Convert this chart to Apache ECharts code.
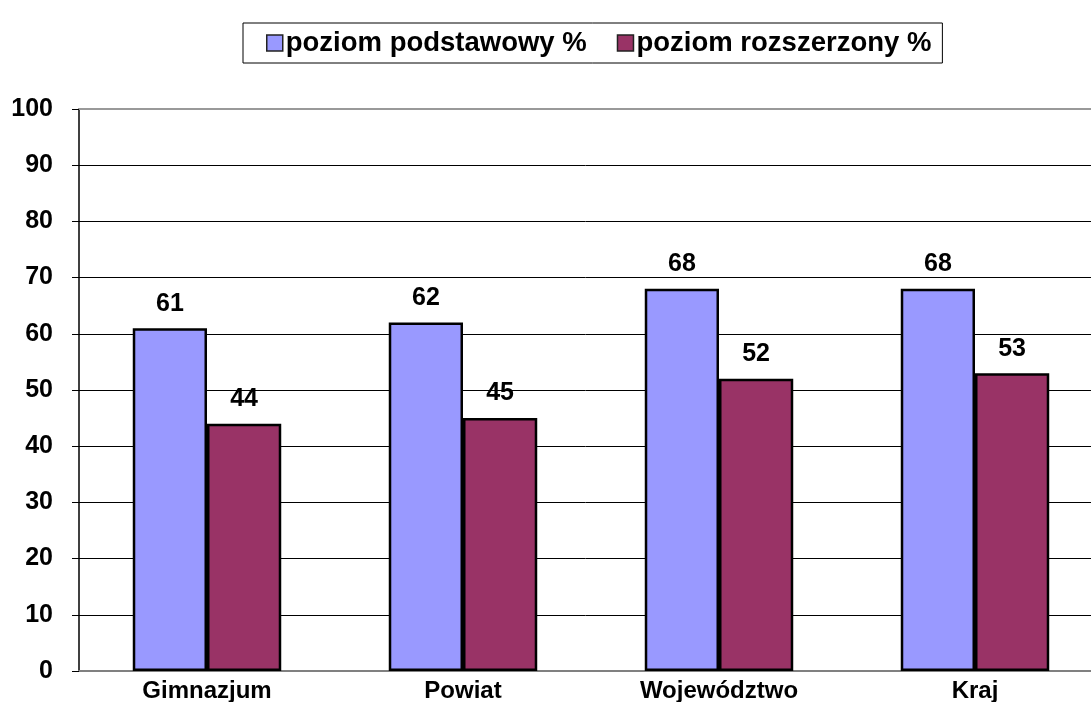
<!DOCTYPE html>
<html>
<head>
<meta charset="utf-8">
<script src="https://cdn.jsdelivr.net/npm/echarts@6/dist/echarts.min.js"></script>
<style>
  html, body { margin: 0; padding: 0; background: #fff; }
  #chart { width: 1091px; height: 702px; }
</style>
</head>
<body>
<div id="chart"></div>
<script>
// dane wykresu
var categories = ['Gimnazjum', 'Powiat', 'Województwo', 'Kraj'];
var podstawowy = [61, 62, 68, 68];
var rozszerzony = [44, 45, 52, 53];
var seriesNames = ['poziom podstawowy %', 'poziom rozszerzony %'];

var font = '"Liberation Sans", Arial, sans-serif';
var myChart = echarts.init(document.getElementById('chart'));

var labelStyle = {
  show: true,
  position: 'top',
  distance: 12,
  color: '#000',
  fontFamily: font,
  fontWeight: 'bold',
  fontSize: 25
};

var option = {
  animation: false,
  backgroundColor: '#fff',
  legend: {
    left: 243,
    top: 23,
    padding: [6, 11, 6, 23],
    borderColor: '#000',
    borderWidth: 1,
    itemWidth: 16,
    itemHeight: 16,
    itemGap: 30,
    icon: 'rect',
    itemStyle: { borderColor: '#222', borderWidth: 1.5 },
    textStyle: { fontFamily: font, fontWeight: 'bold', fontSize: 27.5, color: '#000', padding: [0, 0, 0, -2] },
    data: seriesNames
  },
  // obszar wykresu wychodzi poza prawa krawedz
  grid: { left: 79, top: 109, width: 1024, height: 562, outerBoundsMode: 'none' },
  xAxis: [
    {
      type: 'category',
      data: categories,
      axisLine: { lineStyle: { color: '#808080', width: 2 } },
      axisTick: { show: false },
      axisLabel: { margin: 8, color: '#000', fontFamily: font, fontWeight: 'bold', fontSize: 24 }
    },
    {
      type: 'category',
      position: 'top',
      data: categories,
      axisLine: { lineStyle: { color: '#999', width: 2 } },
      axisTick: { show: false },
      axisLabel: { show: false }
    }
  ],
  yAxis: {
    type: 'value',
    min: 0,
    max: 100,
    interval: 10,
    axisLine: { show: true, lineStyle: { color: '#000', width: 1.5 } },
    axisTick: { show: true, length: 7, lineStyle: { color: '#000' } },
    axisLabel: { margin: 26, color: '#000', fontFamily: font, fontWeight: 'bold', fontSize: 25 },
    splitLine: {
      lineStyle: {
        color: ['#000', '#000', '#000', '#000', '#000', '#000', '#000', '#000', '#000', '#000', '#999'],
        width: 1
      }
    }
  },
  series: [
    {
      name: seriesNames[0],
      type: 'bar',
      data: podstawowy,
      barGap: '0%',
      barCategoryGap: '42%',
      itemStyle: { color: '#9999FF', borderColor: '#000', borderWidth: 2.5 },
      label: labelStyle
    },
    {
      name: seriesNames[1],
      type: 'bar',
      data: rozszerzony,
      itemStyle: { color: '#993366', borderColor: '#000', borderWidth: 2.5 },
      label: labelStyle
    }
  ]
};

myChart.setOption(option);
</script>
</body>
</html>
